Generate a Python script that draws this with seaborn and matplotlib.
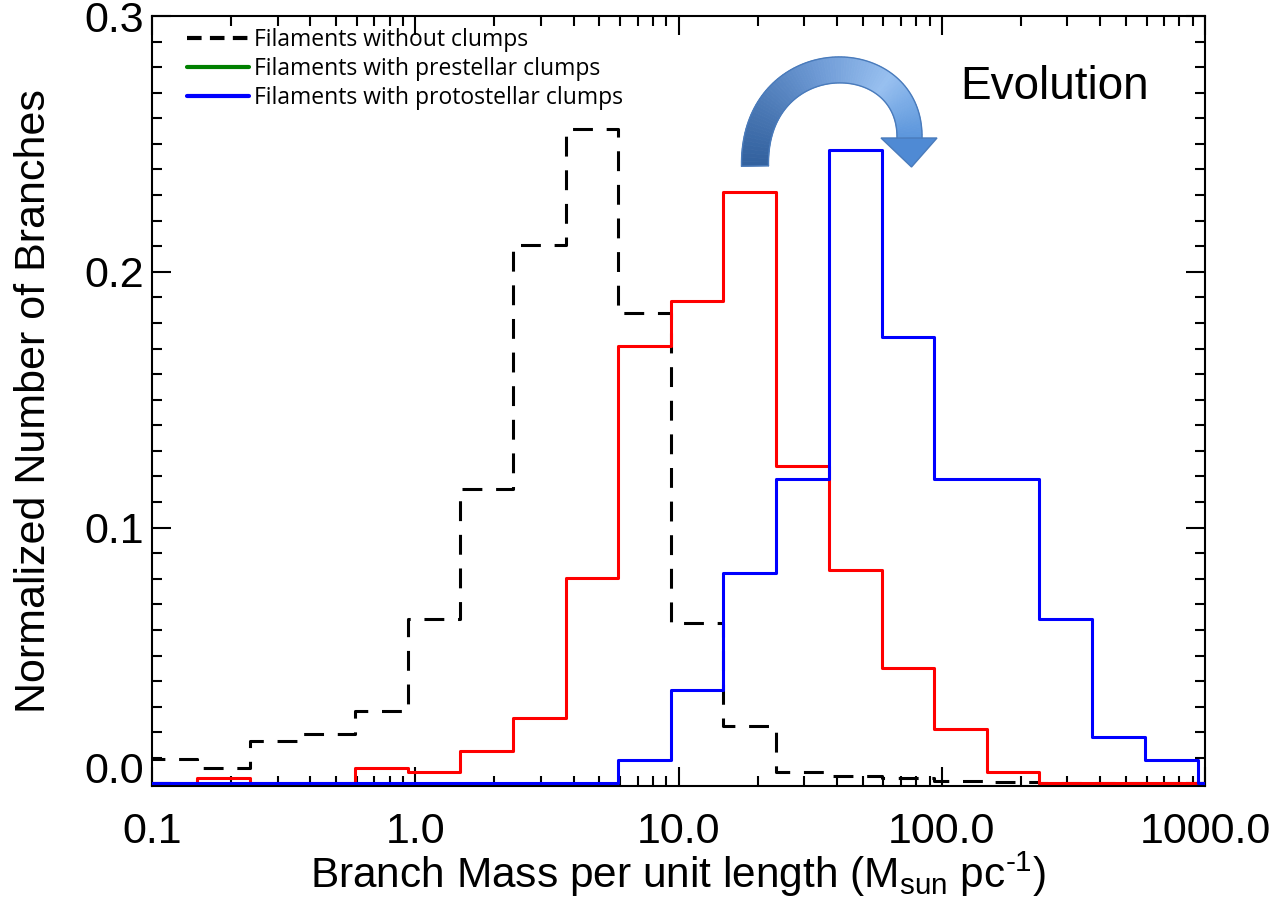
import numpy as np
import pandas as pd
import matplotlib
matplotlib.use("Agg")
import matplotlib.pyplot as plt
from matplotlib.lines import Line2D
from matplotlib.collections import PolyCollection
from matplotlib.colors import LinearSegmentedColormap
import seaborn as sns

# bin edges (Msun/pc), shared by all three histograms
edges = [0.0937, 0.148, 0.235, 0.373, 0.591, 0.937, 1.48, 2.35, 3.73, 5.91, 9.37,
         14.8, 23.5, 37.3, 59.1, 93.7, 148, 235, 373, 591, 937, 1485]

# normalized counts per bin
no_clumps = [0.0095, 0.0060, 0.0166, 0.0195, 0.0283, 0.0643, 0.1150, 0.2105, 0.2558, 0.1839,
             0.0627, 0.0225, 0.0043, 0.0030, 0.0020, 0.0010, 0.0005, 0.0, 0.0, 0.0, 0.0]
prestellar = [0.0, 0.0020, 0.0, 0.0, 0.0062, 0.0043, 0.0127, 0.0257, 0.0805, 0.1711,
              0.1884, 0.2311, 0.1240, 0.0834, 0.0452, 0.0212, 0.0043, 0.0, 0.0, 0.0, 0.0]
protostellar = [0.0, 0.0, 0.0, 0.0, 0.0, 0.0, 0.0, 0.0, 0.0, 0.0092,
                0.0367, 0.0823, 0.1192, 0.2478, 0.1744, 0.1192, 0.1192, 0.0644, 0.0183, 0.0091, 0.0]

legend_labels = ["Filaments without clumps", "Filaments with prestellar clumps",
                 "Filaments with protostellar clumps"]
xtick_vals = [0.1, 1, 10, 100, 1000]
xtick_labels = ["0.1", "1.0", "10.0", "100.0", "1000.0"]
ytick_vals = [0.0, 0.1, 0.2, 0.3]
ytick_labels = ["0.0", "0.1", "0.2", "0.3"]

sns.set_style("ticks")
plt.rcParams["font.family"] = ["Liberation Sans", "DejaVu Sans"]
plt.rcParams["mathtext.default"] = "regular"
plt.rcParams["text.color"] = "black"
plt.rcParams["axes.labelcolor"] = "black"


def steps(vals):
    # step outline: one point per left edge, last value repeated at the right edge
    return pd.DataFrame({"x": edges, "y": list(vals) + [vals[-1]]})


fig = plt.figure(figsize=(12.78, 9), dpi=100)
ax = fig.add_axes([152 / 1278, 1 - 786 / 900, 1053 / 1278, 770 / 900])

sns.lineplot(data=steps(no_clumps), x="x", y="y", ax=ax, color="black", lw=2.2,
             drawstyle="steps-post", zorder=3).lines[-1].set_dashes((6.5, 4.5))
sns.lineplot(data=steps(prestellar), x="x", y="y", ax=ax, color="red", lw=2.2,
             drawstyle="steps-post", zorder=3)
sns.lineplot(data=steps(protostellar), x="x", y="y", ax=ax, color="blue", lw=2.2,
             drawstyle="steps-post", zorder=3)

ax.set_xscale("log")
ax.set_xlim(0.1, 1000)
ax.set_ylim(-0.001, 0.3)
ax.set_xticks(xtick_vals)
ax.set_xticklabels(xtick_labels)
ax.set_yticks(ytick_vals)
ax.set_yticklabels(ytick_labels)
ax.yaxis.set_minor_locator(matplotlib.ticker.MultipleLocator(0.01))
ax.tick_params(which="both", direction="in", top=True, right=True, width=1.5,
               colors="black", labelcolor="black")
ax.tick_params(which="major", length=14, labelsize=31)
ax.tick_params(which="minor", length=7)
ax.tick_params(axis="x", which="major", pad=19)
ax.tick_params(axis="y", which="major", pad=6)
ax.get_yticklabels()[0].set_va("baseline")
for s in ax.spines.values():
    s.set_linewidth(1.5)
    s.set_color("black")

ax.set_xlabel("Branch Mass per unit length (M$_{sun}$ pc$^{\u2010 1}$)", fontsize=30.5)
ax.set_ylabel("Normalized Number of Branches", fontsize=31)
ax.yaxis.set_label_coords(-0.093, 0.5)
ax.xaxis.set_label_coords(0.5, -0.083)

handles = [Line2D([], [], color="black", lw=3, dashes=(3.5, 2)),
           Line2D([], [], color="green", lw=3),
           Line2D([], [], color="blue", lw=3)]
ax.legend(handles, legend_labels, loc="upper left", bbox_to_anchor=(0.033, 0.985),
          frameon=False, borderpad=0, borderaxespad=0, handlelength=2.7,
          handletextpad=0.25, labelspacing=0.22, prop={"family": "Open Sans", "size": 16.5})

# curved "Evolution" arrow, drawn on a pixel-coordinate overlay
ov = fig.add_axes([0, 0, 1, 1], zorder=5)
ov.set_xlim(0, 1278)
ov.set_ylim(900, 0)
ov.axis("off")
p0, p1, p2, p3 = (np.array(p, float) for p in [(755, 166), (753, 43), (911, 43), (909.5, 138)])
t = np.linspace(0, 1, 90)[:, None]
curve = (1 - t) ** 3 * p0 + 3 * (1 - t) ** 2 * t * p1 + 3 * (1 - t) * t ** 2 * p2 + t ** 3 * p3
deriv = 3 * (1 - t) ** 2 * (p1 - p0) + 6 * (1 - t) * t * (p2 - p1) + 3 * t ** 2 * (p3 - p2)
norm = np.column_stack([-deriv[:, 1], deriv[:, 0]]) / np.hypot(deriv[:, 0], deriv[:, 1])[:, None]
half = np.linspace(13.5, 12.5, len(curve))[:, None]
outer, inner = curve + norm * half, curve - norm * half
quads = [[outer[i], outer[i + 1], inner[i + 1], inner[i]] for i in range(len(curve) - 1)]
cmap = LinearSegmentedColormap.from_list(
    "arr", [(0, "#33629f"), (0.45, "#6f9bd6"), (0.75, "#98c0f0"), (1, "#5d97dc")])
cols = cmap(np.linspace(0, 1, len(quads)))
ov.add_collection(PolyCollection(quads, facecolors=cols, edgecolors=cols, lw=0.6))
ov.plot(outer[:, 0], outer[:, 1], color="#4a7bbb", lw=1)
ov.plot(inner[:, 0], inner[:, 1], color="#4a7bbb", lw=1)
ov.plot([outer[0, 0], inner[0, 0]], [outer[0, 1], inner[0, 1]], color="#4a7bbb", lw=1)
ov.fill([881, 937, 911.5], [138, 138, 167], facecolor="#4f8ad4", edgecolor="#4a7bbb", lw=1)

fig.text(960 / 1278, 1 - 87 / 900, "Evolution", fontsize=33, va="center", ha="left")

fig.savefig("out.png", dpi=100)
